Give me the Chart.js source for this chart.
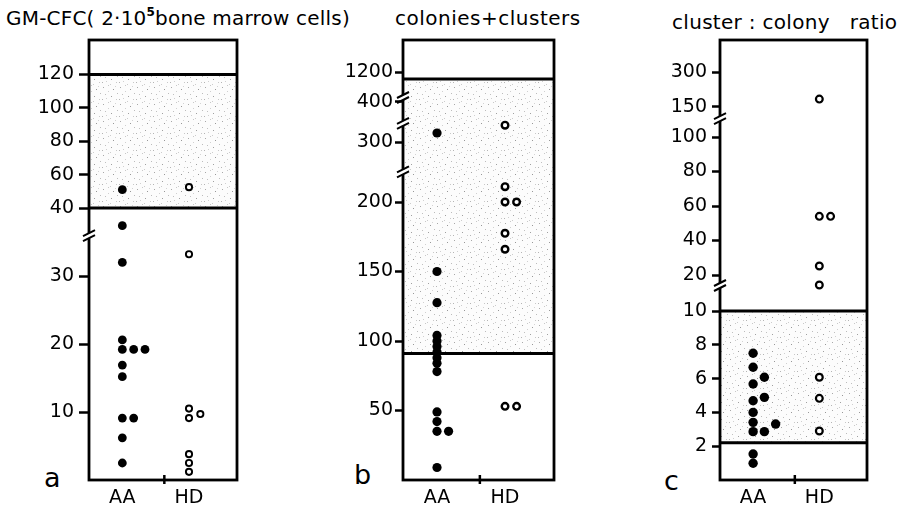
<!DOCTYPE html>
<html>
<head>
<meta charset="utf-8">
<script src="https://cdn.jsdelivr.net/npm/chart.js@4.4.1/dist/chart.umd.min.js"></script>
<style>
  body { margin: 0; background: #fff; width: 902px; height: 513px; position: relative; overflow: hidden;
         font-family: 'DejaVu Sans', sans-serif; color: #000; }
  canvas { position: absolute; top: 0; }
  .title { position: absolute; font-size: 20px; line-height: 1; white-space: pre; }
  .title sup { font-size: 12px; font-weight: bold; vertical-align: top; position: relative; top: -2px; }
  .letter { position: absolute; font-size: 27px; line-height: 1; }
</style>
</head>
<body>
<div class="title" style="left:6px;top:8px;letter-spacing:0.2px">GM-CFC( 2·10<sup>5</sup>bone marrow cells)</div>
<div class="title" style="left:395px;top:8px;letter-spacing:0.5px">colonies+clusters</div>
<div class="title" style="left:672px;top:12px;letter-spacing:0.3px">cluster : colony   ratio</div>
<div class="letter" style="left:44px;top:464px">a</div>
<div class="letter" style="left:354px;top:461px">b</div>
<div class="letter" style="left:664px;top:467px">c</div>

<canvas id="chart-a" width="250" height="513" style="left:0px"></canvas>
<canvas id="chart-b" width="265" height="513" style="left:300px"></canvas>
<canvas id="chart-c" width="280" height="513" style="left:610px"></canvas>

<script>
// ── Data ──────────────────────────────────────────────────────────────────
const categories = ['AA', 'HD'];

// [value, column in the dot stack]
const aAA = [[51, 0], [37.4, 0], [32, 0], [20.6, 0], [19.2, 0], [19.2, 1], [19.2, 2], [16.9, 0],
             [15.2, 0], [9.1, 0], [9.1, 1], [6.2, 0], [2.5, 0]];
const aHD = [[52.5, 0], [33.2, 0], [10.5, 0], [9.1, 0], [9.7, 1], [3.8, 0], [2.5, 0], [1.2, 0]];
const aTicks = [10, 20, 30, 40, 60, 80, 100, 120];
const aBand  = [40, 120];

const bAA = [[315, 0], [150, 0], [127.6, 0], [104, 0], [100, 0], [96, 0], [92, 0], [88, 0], [84, 0],
             [78, 0], [49, 0], [42, 0], [35, 0], [35, 1], [9, 0]];
const bHD = [[328, 0], [211, 0], [200, 0], [200, 1], [177.5, 0], [166, 0], [53, 0], [53, 1]];
const bTicks = [50, 100, 150, 200, 300, 400, 1200];
const bBand  = [91, 1100];

const cAA = [[7.5, 0], [6.67, 0], [6.08, 1], [5.68, 0], [4.89, 1], [4.69, 0], [4.0, 0], [3.41, 0],
             [3.31, 2], [2.86, 0], [2.86, 1], [1.54, 0], [0.99, 0]];
const cHD = [[184, 0], [54, 0], [54, 1], [25.2, 0], [14.2, 0], [6.08, 0], [4.83, 0], [2.9, 0]];
const cTicks = [2, 4, 6, 8, 10, 20, 40, 60, 80, 100, 150, 300];
const cBand  = [2.2, 10];

// ── Broken axes: value -> axis unit, piecewise ────────────────────────────
const aSegs = [
  { lo: 0,  hi: 40,  v0: 0,  u0: 0,   k: 6.8 },
  { lo: 40, hi: 1e9, v0: 40, u0: 272, k: 1.67 },
];
const bSegs = [
  { lo: 0,   hi: 250, v0: 0,    u0: 0,   k: 1.39 },
  { lo: 250, hi: 360, v0: 300,  u0: 338, k: 0.6 },
  { lo: 360, hi: 800, v0: 400,  u0: 378, k: 0.2 },
  { lo: 800, hi: 1e9, v0: 1200, u0: 408, k: 0.07 },
];
const cSegs = [
  { lo: 0,   hi: 12,  v0: 0,   u0: 0,   k: 16.9 },
  { lo: 12,  hi: 120, v0: 20,  u0: 205, k: 1.725 },
  { lo: 120, hi: 1e9, v0: 150, u0: 373, k: 0.233 },
];
const aBreaks = [36];
const bBreaks = [222, 332, 425];
const cBreaks = [14.2, 111];

function toUnit(v, segs) {
  const s = segs.find(s => v >= s.lo && v < s.hi) ?? segs[segs.length - 1];
  return s.u0 + (v - s.v0) * s.k;
}

// ── Stipple pattern for the normal range band ─────────────────────────────
function stipple() {
  const c = document.createElement('canvas');
  c.width = 17; c.height = 17;
  const g = c.getContext('2d');
  g.fillStyle = '#fcfcfc';
  g.fillRect(0, 0, 17, 17);
  const specks = [[1, 2, '#a8a8a8'], [6, 0, '#c8c8c8'], [11, 4, '#989898'], [3, 9, '#c0c0c0'],
                  [9, 11, '#a0a0a0'], [14, 14, '#c8c8c8'], [6, 6, '#d0d0d0'], [0, 14, '#b4b4b4'],
                  [15, 8, '#bcbcbc'], [8, 16, '#cccccc'], [13, 1, '#d4d4d4'], [4, 13, '#d0d0d0']];
  for (const [x, y, col] of specks) { g.fillStyle = col; g.fillRect(x, y, 1, 1); }
  return g.createPattern(c, 'repeat');
}

// ── Frame, band, axis breaks, mid tick ────────────────────────────────────
const panelDecor = {
  id: 'panelDecor',
  beforeDatasetsDraw(chart, args, opts) {
    const { ctx, chartArea: ca, scales: { x, y } } = chart;
    const yTop = y.getPixelForValue(toUnit(opts.band[1], opts.segs));
    const yBot = y.getPixelForValue(toUnit(opts.band[0], opts.segs));
    ctx.save();
    ctx.fillStyle = stipple();
    ctx.fillRect(ca.left, yTop, ca.width, yBot - yTop);

    ctx.strokeStyle = '#000';
    ctx.lineWidth = 3;
    ctx.beginPath();
    ctx.moveTo(ca.left, yTop); ctx.lineTo(ca.right, yTop);
    ctx.moveTo(ca.left, yBot); ctx.lineTo(ca.right, yBot);
    ctx.stroke();

    ctx.lineWidth = 2.8;
    ctx.strokeRect(ca.left, ca.top, ca.width, ca.height);

    // axis breaks
    for (const b of opts.breaks) {
      const py = y.getPixelForValue(toUnit(b, opts.segs));
      ctx.fillStyle = '#fff';
      ctx.fillRect(ca.left - 2, py - 2, 4, 5);
      ctx.lineWidth = 2;
      ctx.beginPath();
      ctx.moveTo(ca.left - 6, py + 1); ctx.lineTo(ca.left + 6, py - 5);
      ctx.moveTo(ca.left - 6, py + 6); ctx.lineTo(ca.left + 6, py);
      ctx.stroke();
    }

    // small tick between the groups
    const mx = x.getPixelForValue(1.63);
    ctx.lineWidth = 2.5;
    ctx.beginPath();
    ctx.moveTo(mx, ca.bottom - 5); ctx.lineTo(mx, ca.bottom + 4);
    ctx.stroke();
    ctx.restore();
  },
};

const FONT = "'DejaVu Sans', sans-serif";
const colStep = 0.17;

function makeChart(id, o) {
  const pts = (rows, base) => rows.map(([v, c]) => ({ x: base + c * colStep, y: toUnit(v, o.segs) }));
  return new Chart(document.getElementById(id), {
    type: 'scatter',
    data: {
      datasets: [
        { data: pts(o.aa, 1), pointRadius: o.fillR, pointBackgroundColor: '#000', pointBorderWidth: 0 },
        { data: pts(o.hd, 2), pointRadius: o.openR, pointBackgroundColor: '#fff',
          pointBorderColor: '#000', pointBorderWidth: o.openW },
      ],
    },
    options: {
      responsive: false, animation: false, events: [],
      layout: { padding: { top: 40, right: o.right, left: 0, bottom: 0 } },
      plugins: {
        legend: { display: false }, tooltip: { enabled: false },
        panelDecor: { segs: o.segs, band: o.band, breaks: o.breaks },
      },
      scales: {
        x: {
          type: 'linear', min: 0.5, max: 2.72,
          grid: { display: false, drawTicks: false }, border: { display: false },
          afterBuildTicks: s => { s.ticks = [{ value: 1 }, { value: 2 }]; },
          afterFit: s => { s.height = 33; },
          ticks: { callback: (v, i) => categories[i], font: { size: 19, family: FONT },
                   color: '#000', padding: 7, maxRotation: 0 },
        },
        y: {
          type: 'linear', min: 0, max: 440,
          grid: { drawOnChartArea: false, drawTicks: true, tickLength: o.tickLen, tickWidth: 2.5, tickColor: '#000' },
          border: { display: false },
          afterBuildTicks: s => { s.ticks = o.ticks.map(v => ({ value: toUnit(v, o.segs) })); },
          afterFit: s => { s.width = o.axisW; },
          ticks: { callback: (v, i) => String(o.ticks[i]), autoSkip: false,
                   font: { size: 19, family: FONT }, color: '#000', padding: o.pad },
        },
      },
    },
    plugins: [panelDecor],
  });
}

makeChart('chart-a', { aa: aAA, hd: aHD, ticks: aTicks, band: aBand, segs: aSegs, breaks: aBreaks,
                       axisW: 89, right: 13, tickLen: 10, pad: 5, fillR: 4.4, openR: 3.1, openW: 1.9 });
makeChart('chart-b', { aa: bAA, hd: bHD, ticks: bTicks, band: bBand, segs: bSegs, breaks: bBreaks,
                       axisW: 103, right: 11, tickLen: 8, pad: 2, fillR: 4.6, openR: 3.3, openW: 2.4 });
makeChart('chart-c', { aa: cAA, hd: cHD, ticks: cTicks, band: cBand, segs: cSegs, breaks: cBreaks,
                       axisW: 110, right: 23, tickLen: 8, pad: 5, fillR: 4.7, openR: 3.4, openW: 2.2 });
</script>
</body>
</html>
